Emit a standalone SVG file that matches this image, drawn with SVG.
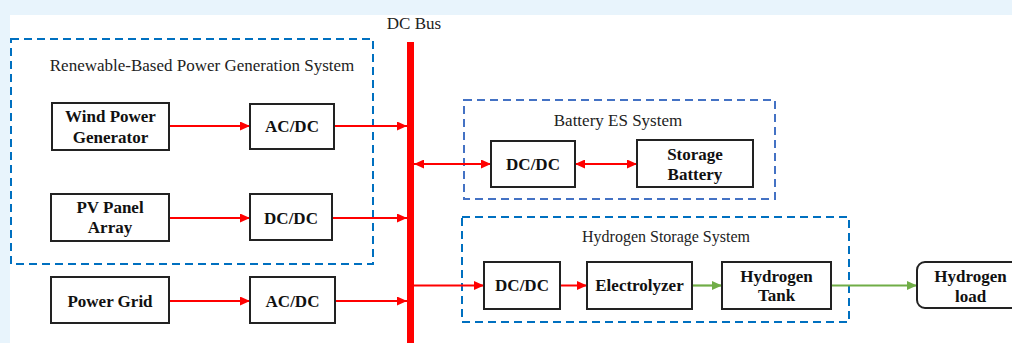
<svg xmlns="http://www.w3.org/2000/svg" width="1012" height="343" viewBox="0 0 1012 343">
<style>
.node rect{fill:#fff;stroke:#222;stroke-width:2}
.lbl{font-family:"Liberation Serif","Times New Roman",serif;font-size:17px;font-weight:bold;fill:#111;text-anchor:middle}
.title{font-family:"Liberation Serif","Times New Roman",serif;font-size:17px;fill:#222;text-anchor:middle}
.grp{fill:none;stroke-width:2;stroke-dasharray:8 5}
.red{stroke:#ff0000;stroke-width:2;fill:none}
.green{stroke:#70ad47;stroke-width:2.2;fill:none}
</style>
<defs>
<marker id="ar" markerUnits="userSpaceOnUse" markerWidth="10" markerHeight="9" refX="10" refY="4.5" orient="auto-start-reverse"><path d="M0,0 L10,4.5 L0,9 z" fill="#ff0000"/></marker>
<marker id="ag" markerUnits="userSpaceOnUse" markerWidth="10" markerHeight="9" refX="10" refY="4.5" orient="auto"><path d="M0,0 L10,4.5 L0,9 z" fill="#70ad47"/></marker>
</defs>
<rect x="0" y="0" width="1012" height="343" fill="#e8f4fc"/>
<rect x="10" y="15" width="1002" height="328" fill="#ffffff"/>

<g id="groups">
<g id="renewable-system">
<rect class="grp" x="11" y="39" width="362" height="225" stroke="#0070c0"/>
<text class="title" x="202" y="71">Renewable-Based Power Generation System</text>
</g>
<g id="battery-system">
<rect class="grp" x="464" y="100" width="311" height="99" stroke="#4472c4"/>
<text class="title" x="618" y="126">Battery ES System</text>
</g>
<g id="hydrogen-system">
<rect class="grp" x="462" y="217" width="387" height="105" stroke="#0070c0"/>
<text class="title" x="666" y="242" style="font-size:16px">Hydrogen Storage System</text>
</g>
</g>

<g id="dc-bus">
<rect x="407" y="42" width="7" height="310" fill="#ff0000"/>
<text class="title" x="414" y="29">DC Bus</text>
</g>

<g id="connectors">
<line class="red" x1="169" y1="126" x2="250" y2="126" marker-end="url(#ar)"/>
<line class="red" x1="334" y1="126" x2="407" y2="126" marker-end="url(#ar)"/>
<line class="red" x1="169" y1="218" x2="250" y2="218" marker-end="url(#ar)"/>
<line class="red" x1="332" y1="218" x2="407" y2="218" marker-end="url(#ar)"/>
<line class="red" x1="169" y1="301" x2="250" y2="301" marker-end="url(#ar)"/>
<line class="red" x1="335" y1="301" x2="407" y2="301" marker-end="url(#ar)"/>
<line class="red" x1="414" y1="164" x2="491" y2="164" marker-start="url(#ar)" marker-end="url(#ar)"/>
<line class="red" x1="575" y1="164" x2="637" y2="164" marker-start="url(#ar)" marker-end="url(#ar)"/>
<line class="red" x1="414" y1="285.5" x2="484" y2="285.5" marker-end="url(#ar)"/>
<line class="red" x1="560" y1="285.5" x2="587" y2="285.5" marker-end="url(#ar)"/>
<line class="green" x1="692" y1="285.5" x2="722" y2="285.5" marker-end="url(#ag)"/>
<line class="green" x1="831" y1="285.5" x2="917" y2="285.5" marker-end="url(#ag)"/>
</g>

<g id="wind" class="node"><rect x="52" y="103" width="117" height="47"/><text class="lbl" x="110.5" y="122">Wind Power</text><text class="lbl" x="110.5" y="143">Generator</text></g>
<g id="acdc1" class="node"><rect x="250" y="104" width="84" height="45"/><text class="lbl" x="292" y="132">AC/DC</text></g>
<g id="pv" class="node"><rect x="51" y="194" width="118" height="47"/><text class="lbl" x="110" y="213">PV Panel</text><text class="lbl" x="110" y="233">Array</text></g>
<g id="dcdc1" class="node"><rect x="250" y="194" width="82" height="46"/><text class="lbl" x="291" y="224">DC/DC</text></g>
<g id="grid" class="node"><rect x="51" y="277" width="118" height="46"/><text class="lbl" x="110" y="307">Power Grid</text></g>
<g id="acdc2" class="node"><rect x="250" y="277" width="85" height="46"/><text class="lbl" x="292.5" y="307">AC/DC</text></g>
<g id="dcdc-bat" class="node"><rect x="491" y="141" width="84" height="46"/><text class="lbl" x="533" y="170">DC/DC</text></g>
<g id="battery" class="node"><rect x="637" y="140" width="116" height="47"/><text class="lbl" x="695" y="160">Storage</text><text class="lbl" x="695" y="180">Battery</text></g>
<g id="dcdc-h2" class="node"><rect x="484" y="262" width="76" height="47"/><text class="lbl" x="522" y="291">DC/DC</text></g>
<g id="electrolyzer" class="node"><rect x="587" y="262" width="105" height="47"/><text class="lbl" x="639.5" y="291">Electrolyzer</text></g>
<g id="tank" class="node"><rect x="722" y="262" width="109" height="47"/><text class="lbl" x="776.5" y="282">Hydrogen</text><text class="lbl" x="776.5" y="301">Tank</text></g>
<g id="h2load" class="node"><rect x="917" y="262" width="107" height="46" rx="8" ry="8"/><text class="lbl" x="970.5" y="282">Hydrogen</text><text class="lbl" x="970.5" y="302">load</text></g>
</svg>
